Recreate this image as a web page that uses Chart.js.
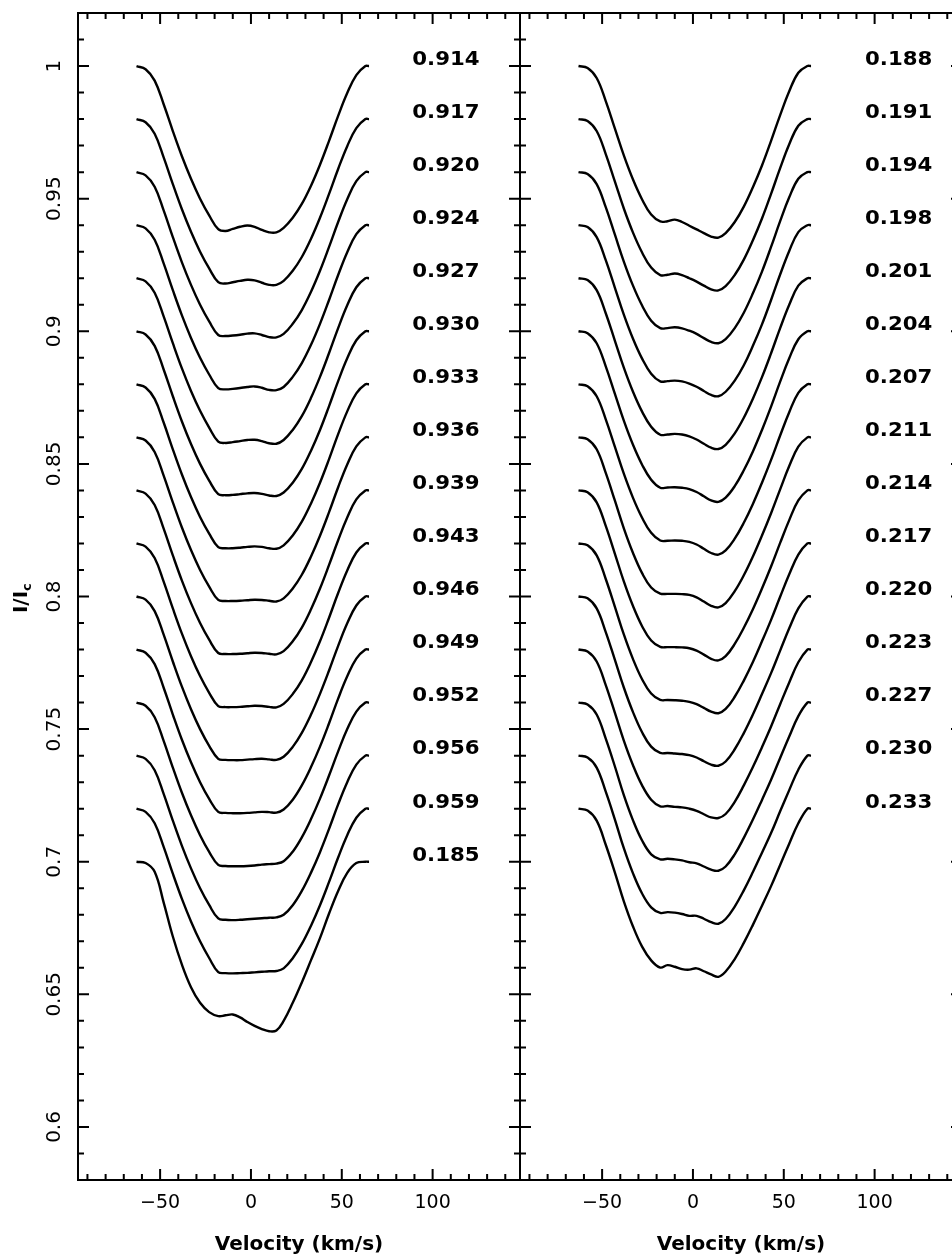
<!DOCTYPE html>
<html>
<head>
<meta charset="utf-8">
<script src="https://cdn.jsdelivr.net/npm/chart.js@4.4.0/dist/chart.umd.min.js"></script>
<style>
  html, body { margin: 0; padding: 0; background: #fff; }
  #wrap { position: relative; width: 952px; height: 1260px; overflow: hidden; background: #fff; }
  canvas { position: absolute; top: 0; }
  #left { left: 0; }
  #right { left: 510px; }
</style>
</head>
<body>
<div id="wrap">
  <canvas id="left" width="530" height="1260"></canvas>
  <canvas id="right" width="470" height="1260"></canvas>
</div>
<script>
// velocity grid (km/s) the profiles were read on
const velocity = [-63,-58,-53,-48,-43,-38,-33,-28,-23,-18,-14,-10,-6,-2,2,6,10,14,18,23,28,33,38,43,48,53,58,63,65];

const xTicks = [-50, 0, 50, 100];
const yTicks = [0.6, 0.65, 0.7, 0.75, 0.8, 0.85, 0.9, 0.95, 1];

// each profile is drawn 0.02 below the one before it
const shift = 0.02;

const phasesLeft = ['0.914','0.917','0.920','0.924','0.927','0.930','0.933','0.936',
                    '0.939','0.943','0.946','0.949','0.952','0.956','0.959','0.185'];
const phasesRight = ['0.188','0.191','0.194','0.198','0.201','0.204','0.207','0.211',
                     '0.214','0.217','0.220','0.223','0.227','0.230','0.233'];

// I/Ic, continuum = 1
const profLeft = [
  [1.000,0.9988,0.9945,0.9855,0.9755,0.9660,0.9575,0.9500,0.9437,0.9385,0.9378,0.9386,0.9394,0.9399,0.9394,0.9382,0.9373,0.9373,0.9390,0.9428,0.9480,0.9548,0.9628,0.9718,0.9812,0.9898,0.9966,1.000,1.000],
  [1.000,0.9988,0.9945,0.9855,0.9755,0.9660,0.9575,0.9500,0.9437,0.9385,0.9380,0.9385,0.9390,0.9394,0.9392,0.9383,0.9375,0.9375,0.9390,0.9428,0.9480,0.9548,0.9628,0.9718,0.9812,0.9898,0.9966,1.000,1.000],
  [1.000,0.9988,0.9945,0.9855,0.9755,0.9660,0.9575,0.9500,0.9437,0.9386,0.9382,0.9384,0.9387,0.9391,0.9392,0.9386,0.9378,0.9377,0.9390,0.9428,0.9480,0.9548,0.9628,0.9718,0.9812,0.9898,0.9966,1.000,1.000],
  [1.000,0.9988,0.9945,0.9855,0.9755,0.9660,0.9575,0.9500,0.9437,0.9386,0.9381,0.9383,0.9386,0.9390,0.9392,0.9387,0.9379,0.9378,0.9390,0.9428,0.9480,0.9548,0.9628,0.9718,0.9812,0.9898,0.9966,1.000,1.000],
  [1.000,0.9988,0.9945,0.9855,0.9755,0.9660,0.9575,0.9500,0.9437,0.9384,0.9379,0.9382,0.9386,0.9390,0.9391,0.9386,0.9378,0.9376,0.9390,0.9428,0.9480,0.9548,0.9628,0.9718,0.9812,0.9898,0.9966,1.000,1.000],
  [1.000,0.9988,0.9945,0.9855,0.9755,0.9660,0.9575,0.9500,0.9437,0.9386,0.9382,0.9383,0.9386,0.9389,0.9390,0.9387,0.9381,0.9379,0.9392,0.9429,0.9481,0.9549,0.9628,0.9718,0.9812,0.9898,0.9966,1.000,1.000],
  [1.000,0.9988,0.9945,0.9855,0.9755,0.9660,0.9575,0.9500,0.9437,0.9386,0.9382,0.9382,0.9384,0.9387,0.9389,0.9387,0.9382,0.9380,0.9393,0.9430,0.9482,0.9550,0.9629,0.9718,0.9812,0.9898,0.9966,1.000,1.000],
  [1.000,0.9988,0.9945,0.9855,0.9755,0.9660,0.9575,0.9500,0.9437,0.9387,0.9383,0.9383,0.9384,0.9386,0.9388,0.9387,0.9384,0.9381,0.9393,0.9430,0.9482,0.9550,0.9629,0.9718,0.9812,0.9898,0.9966,1.000,1.000],
  [1.000,0.9988,0.9945,0.9855,0.9755,0.9660,0.9575,0.9500,0.9437,0.9387,0.9383,0.9383,0.9384,0.9386,0.9388,0.9387,0.9384,0.9382,0.9394,0.9431,0.9483,0.9551,0.9630,0.9719,0.9812,0.9898,0.9966,1.000,1.000],
  [1.000,0.9988,0.9945,0.9855,0.9755,0.9660,0.9575,0.9500,0.9437,0.9387,0.9383,0.9383,0.9384,0.9386,0.9388,0.9387,0.9384,0.9382,0.9395,0.9432,0.9484,0.9552,0.9631,0.9720,0.9813,0.9898,0.9966,1.000,1.000],
  [1.000,0.9988,0.9945,0.9855,0.9755,0.9660,0.9575,0.9500,0.9437,0.9388,0.9384,0.9383,0.9383,0.9385,0.9387,0.9388,0.9386,0.9384,0.9396,0.9433,0.9486,0.9554,0.9633,0.9721,0.9814,0.9899,0.9966,1.000,1.000],
  [1.000,0.9988,0.9945,0.9855,0.9755,0.9660,0.9575,0.9500,0.9437,0.9388,0.9384,0.9383,0.9383,0.9384,0.9386,0.9388,0.9387,0.9385,0.9397,0.9434,0.9488,0.9556,0.9634,0.9722,0.9815,0.9899,0.9966,1.000,1.000],
  [1.000,0.9988,0.9945,0.9855,0.9755,0.9660,0.9575,0.9500,0.9437,0.9388,0.9384,0.9383,0.9383,0.9384,0.9386,0.9389,0.9391,0.9393,0.9402,0.9438,0.9492,0.9560,0.9638,0.9725,0.9816,0.9900,0.9966,1.000,1.000],
  [1.000,0.9988,0.9945,0.9855,0.9755,0.9660,0.9575,0.9500,0.9437,0.9386,0.9381,0.9380,0.9381,0.9383,0.9385,0.9387,0.9389,0.9390,0.9400,0.9436,0.9490,0.9558,0.9636,0.9724,0.9816,0.9900,0.9966,1.000,1.000],
  [1.000,0.9988,0.9945,0.9855,0.9755,0.9660,0.9575,0.9500,0.9437,0.9384,0.9380,0.9379,0.9380,0.9381,0.9383,0.9385,0.9387,0.9388,0.9398,0.9436,0.9490,0.9558,0.9636,0.9724,0.9816,0.9900,0.9966,1.000,1.000],
  [1.000,0.9995,0.9962,0.9845,0.9718,0.9612,0.9527,0.9468,0.9433,0.9418,0.9421,0.9424,0.9413,0.9396,0.9381,0.9369,0.9361,0.9364,0.9400,0.9468,0.9545,0.9628,0.9712,0.9805,0.9890,0.9958,0.9995,1.000,1.000]
];

const profRight = [
  [1.000,0.9993,0.9955,0.9868,0.9765,0.9662,0.9572,0.9497,0.9440,0.9414,0.9415,0.9421,0.9412,0.9398,0.9384,0.9370,0.9357,0.9353,0.9370,0.9412,0.9470,0.9543,0.9625,0.9718,0.9815,0.9905,0.9975,1.000,1.000],
  [1.000,0.9993,0.9955,0.9868,0.9765,0.9662,0.9572,0.9497,0.9440,0.9412,0.9413,0.9418,0.9412,0.9400,0.9387,0.9372,0.9358,0.9354,0.9370,0.9412,0.9470,0.9543,0.9625,0.9718,0.9815,0.9905,0.9975,1.000,1.000],
  [1.000,0.9993,0.9955,0.9868,0.9765,0.9662,0.9572,0.9497,0.9440,0.9412,0.9412,0.9415,0.9411,0.9402,0.9390,0.9374,0.9360,0.9355,0.9370,0.9412,0.9470,0.9543,0.9625,0.9718,0.9815,0.9905,0.9975,1.000,1.000],
  [1.000,0.9993,0.9955,0.9868,0.9765,0.9662,0.9572,0.9497,0.9440,0.9411,0.9412,0.9414,0.9411,0.9403,0.9391,0.9375,0.9360,0.9355,0.9372,0.9414,0.9472,0.9545,0.9626,0.9718,0.9814,0.9903,0.9974,1.000,1.000],
  [1.000,0.9993,0.9955,0.9868,0.9765,0.9662,0.9572,0.9497,0.9440,0.9410,0.9411,0.9413,0.9411,0.9404,0.9392,0.9376,0.9361,0.9356,0.9372,0.9415,0.9474,0.9546,0.9627,0.9717,0.9812,0.9900,0.9972,1.000,1.000],
  [1.000,0.9993,0.9955,0.9868,0.9765,0.9662,0.9572,0.9497,0.9440,0.9410,0.9411,0.9412,0.9410,0.9405,0.9394,0.9378,0.9362,0.9357,0.9373,0.9416,0.9476,0.9547,0.9628,0.9716,0.9810,0.9898,0.9970,1.000,1.000],
  [1.000,0.9993,0.9955,0.9868,0.9765,0.9662,0.9572,0.9497,0.9440,0.9411,0.9410,0.9411,0.9410,0.9406,0.9396,0.9380,0.9364,0.9358,0.9374,0.9418,0.9478,0.9549,0.9629,0.9715,0.9807,0.9895,0.9968,1.000,1.000],
  [1.000,0.9993,0.9955,0.9866,0.9762,0.9656,0.9564,0.9488,0.9434,0.9411,0.9410,0.9410,0.9409,0.9406,0.9397,0.9381,0.9365,0.9359,0.9375,0.9420,0.9480,0.9551,0.9630,0.9714,0.9804,0.9892,0.9965,1.000,1.000],
  [1.000,0.9993,0.9955,0.9866,0.9762,0.9656,0.9564,0.9488,0.9434,0.9410,0.9409,0.9409,0.9408,0.9405,0.9396,0.9381,0.9365,0.9359,0.9375,0.9421,0.9482,0.9552,0.9630,0.9713,0.9802,0.9888,0.9962,1.000,1.000],
  [1.000,0.9993,0.9955,0.9866,0.9762,0.9656,0.9564,0.9488,0.9434,0.9410,0.9410,0.9409,0.9407,0.9403,0.9394,0.9380,0.9366,0.9360,0.9376,0.9422,0.9483,0.9553,0.9631,0.9712,0.9799,0.9884,0.9958,1.000,1.000],
  [1.000,0.9993,0.9955,0.9866,0.9762,0.9656,0.9564,0.9488,0.9434,0.9410,0.9410,0.9408,0.9406,0.9402,0.9393,0.9379,0.9366,0.9362,0.9378,0.9424,0.9485,0.9555,0.9632,0.9711,0.9796,0.9880,0.9955,1.000,1.000],
  [1.000,0.9993,0.9955,0.9866,0.9762,0.9656,0.9564,0.9488,0.9434,0.9409,0.9410,0.9407,0.9405,0.9400,0.9392,0.9379,0.9367,0.9365,0.9380,0.9426,0.9488,0.9557,0.9632,0.9710,0.9794,0.9876,0.9952,1.000,1.000],
  [1.000,0.9993,0.9955,0.9864,0.9760,0.9650,0.9556,0.9480,0.9428,0.9409,0.9411,0.9409,0.9405,0.9398,0.9394,0.9382,0.9370,0.9366,0.9382,0.9428,0.9490,0.9559,0.9633,0.9709,0.9791,0.9872,0.9949,1.000,1.000],
  [1.000,0.9993,0.9955,0.9864,0.9760,0.9650,0.9556,0.9480,0.9428,0.9407,0.9410,0.9408,0.9403,0.9396,0.9396,0.9385,0.9372,0.9366,0.9384,0.9431,0.9492,0.9561,0.9634,0.9708,0.9790,0.9870,0.9947,1.000,1.000],
  [1.000,0.9993,0.9955,0.9864,0.9760,0.9650,0.9556,0.9480,0.9428,0.9401,0.9410,0.9404,0.9395,0.9393,0.9398,0.9387,0.9375,0.9366,0.9386,0.9433,0.9494,0.9562,0.9634,0.9708,0.9788,0.9868,0.9945,1.000,1.000]
];

const panelPlugin = {
  id: 'panel',
  afterDraw(chart, args, opts) {
    const ctx = chart.ctx;
    const a = chart.chartArea;
    const xs = chart.scales.x, ys = chart.scales.y;
    ctx.save();
    ctx.strokeStyle = '#000';
    ctx.lineWidth = 2;
    ctx.strokeRect(a.left, a.top, a.right - a.left, a.bottom - a.top);
    // inward ticks on all four sides
    ctx.beginPath();
    for (let v = Math.ceil(xs.min / 10) * 10; v <= xs.max; v += 10) {
      const px = xs.getPixelForValue(v);
      const len = v % 50 === 0 ? 11 : 6;
      ctx.moveTo(px, a.bottom); ctx.lineTo(px, a.bottom - len);
      ctx.moveTo(px, a.top); ctx.lineTo(px, a.top + len);
    }
    for (let k = Math.ceil(ys.min * 100 - 1e-6); k <= ys.max * 100 + 1e-6; k++) {
      const py = ys.getPixelForValue(k / 100);
      const len = k % 5 === 0 ? 11 : 6;
      ctx.moveTo(a.left, py); ctx.lineTo(a.left + len, py);
      ctx.moveTo(a.right, py); ctx.lineTo(a.right - len, py);
    }
    ctx.stroke();

    ctx.fillStyle = '#000';
    // phase labels
    ctx.font = 'bold 19px "DejaVu Sans"';
    ctx.textAlign = 'left';
    ctx.textBaseline = 'middle';
    opts.phases.forEach((p, k) => {
      ctx.save();
      ctx.translate(xs.getPixelForValue(opts.labelX), ys.getPixelForValue(1 - shift * k + 0.0023));
      ctx.scale(1.12, 1);
      ctx.fillText(p, 0, 0);
      ctx.restore();
    });

    if (opts.yLabels) {
      ctx.font = '20px "DejaVu Sans"';
      ctx.textAlign = 'center';
      ys.ticks.forEach(t => {
        ctx.save();
        ctx.translate(55, ys.getPixelForValue(t.value));
        ctx.rotate(-Math.PI / 2);
        ctx.fillText(String(parseFloat(t.value.toFixed(2))), 0, 0);
        ctx.restore();
      });
      // I/Ic
      ctx.save();
      ctx.translate(22, 598);
      ctx.rotate(-Math.PI / 2);
      ctx.font = 'bold 20px "DejaVu Sans"';
      ctx.textAlign = 'left';
      const w = ctx.measureText('I/I').width;
      ctx.fillText('I/I', -w / 2 - 4, 0);
      ctx.font = 'bold 13px "DejaVu Sans"';
      ctx.fillText('c', w / 2 - 4, 6);
      ctx.restore();
    }
    ctx.restore();
  }
};

function makePanel(id, phases, profiles, yWidth, padRight, labelX, yLabels) {
  const datasets = profiles.map((p, k) => ({
    data: velocity.map((v, i) => ({ x: v, y: p[i] - shift * k })),
    borderColor: '#000',
    borderWidth: 2.4,
    pointRadius: 0,
    fill: false,
    tension: 0.4
  }));
  return new Chart(document.getElementById(id), {
    type: 'line',
    data: { datasets: datasets },
    options: {
      responsive: false,
      animation: false,
      devicePixelRatio: 1,
      layout: { padding: { top: 13, right: padRight, left: 0, bottom: 0 } },
      plugins: {
        legend: { display: false },
        tooltip: { enabled: false },
        panel: { phases: phases, labelX: labelX, yLabels: yLabels }
      },
      scales: {
        x: {
          type: 'linear', min: -95.2, max: 148.1,
          afterBuildTicks: s => { s.ticks = xTicks.map(v => ({ value: v })); },
          afterFit: s => { s.height = 80; },
          grid: { display: false },
          border: { display: false },
          ticks: {
            color: '#000', padding: 4, maxRotation: 0, autoSkip: false,
            font: { family: 'DejaVu Sans', size: 19 },
            callback: v => v < 0 ? '\u2212' + (-v) : String(v)
          },
          title: {
            display: true, text: 'Velocity (km/s)', color: '#000',
            font: { family: 'DejaVu Sans', size: 20, weight: 'bold' },
            padding: { top: 0, bottom: 3 }
          }
        },
        y: {
          type: 'linear', min: 0.58, max: 1.02,
          afterBuildTicks: s => { s.ticks = yTicks.map(v => ({ value: v })); },
          afterFit: s => { s.width = yWidth; },
          grid: { display: false },
          border: { display: false },
          ticks: { display: false }
        }
      }
    },
    plugins: [panelPlugin]
  });
}

makePanel('left', phasesLeft, profLeft, 78, 10, 88.8, true);
makePanel('right', phasesRight, profRight, 10, 18, 94.7, false);
</script>
</body>
</html>
